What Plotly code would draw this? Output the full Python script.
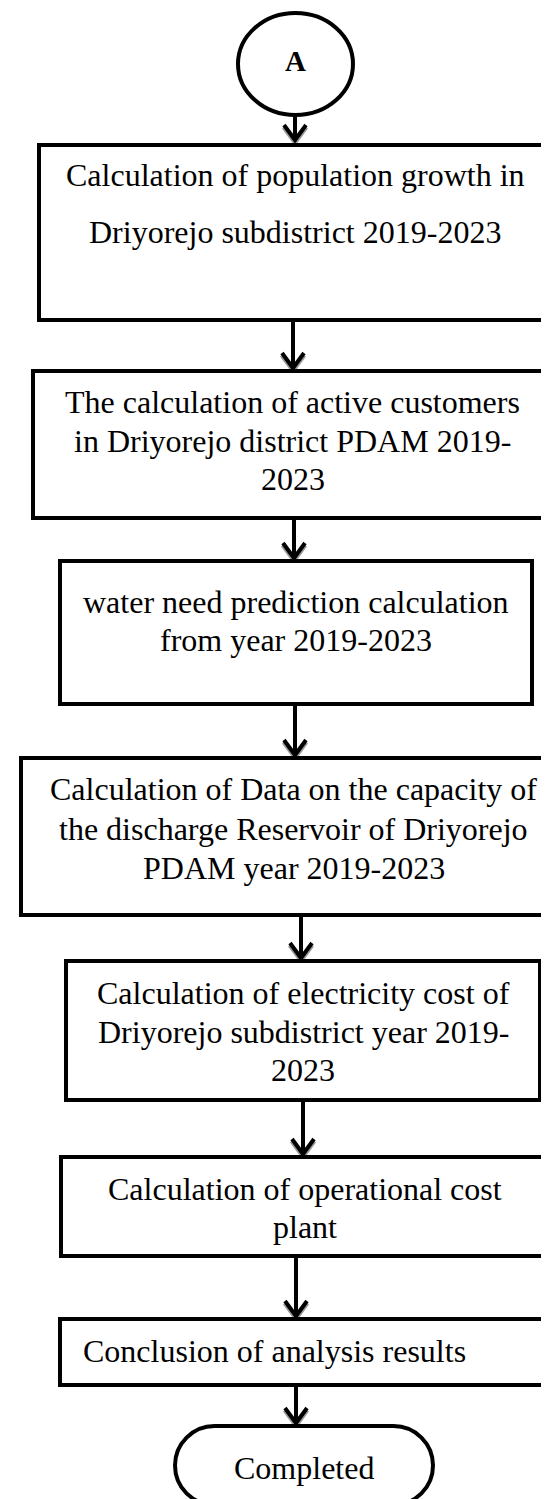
import plotly.graph_objects as go

# ---- content ----
start_label = "A"
end_label = "Completed"
step_labels = [
    ["Calculation of population growth in", "Driyorejo subdistrict 2019-2023"],
    ["The calculation of active customers", "in Driyorejo district PDAM 2019-", "2023"],
    ["water need prediction calculation", "from year 2019-2023"],
    ["Calculation of Data on the capacity of", "the discharge Reservoir of Driyorejo", "PDAM year 2019-2023"],
    ["Calculation of electricity cost of", "Driyorejo subdistrict year 2019-", "2023"],
    ["Calculation of operational cost", "plant"],
    ["Conclusion of analysis results"],
]

# ---- geometry (pixel units on the axes) ----
box_x0 = [31, 25, 52, 13, 58, 53, 52]
box_x1 = [543, 543, 524, 560, 532, 543, 541]
box_y0 = [137, 363, 553, 750, 953, 1149, 1311]
box_y1 = [312, 510, 696, 907, 1092, 1248, 1377]
text_cx = [287, 284.5, 287.5, 285.5, 295, 297, 73]
text_y0 = [167, 394, 593.5, 781, 985, 1181, 1343]
text_dy = [57, 38.5, 38.5, 39.5, 38.5, 38, 0]
text_anchor = ["center", "center", "center", "center", "center", "center", "left"]
arrow_x = [287, 285, 286, 287, 293, 295, 288, 288]
arrow_y0 = [107, 312, 510, 696, 907, 1092, 1248, 1377]
arrow_y1 = [135, 363, 553, 750, 953, 1149, 1311, 1418]
circle_box = (230, 345, 5, 107)
stadium_box = (167, 425, 1418, 1497)

W, H = 549, 1499
FONT = "Liberation Serif, Times New Roman, serif"
LW = 4

shapes = []
annotations = []

# arrows
for x, ya, yb in zip(arrow_x, arrow_y0, arrow_y1):
    tip = yb - 2
    shapes.append(dict(type="line", xref="x", yref="y", x0=x, x1=x, y0=ya, y1=tip - 2,
                       line=dict(color="black", width=LW)))
    shapes.append(dict(type="path", xref="x", yref="y",
                       path=f"M {x-11},{tip-14} L {x},{tip+1} L {x+11},{tip-14}",
                       line=dict(color="#9a9a9a", width=LW + 1)))
    shapes.append(dict(type="path", xref="x", yref="y",
                       path=f"M {x-11},{tip-16} L {x},{tip-1} L {x+11},{tip-16}",
                       line=dict(color="black", width=LW)))

# start circle
cx0, cx1, cy0, cy1 = circle_box
shapes.append(dict(type="circle", xref="x", yref="y", x0=cx0, x1=cx1, y0=cy0, y1=cy1,
                   line=dict(color="black", width=LW), fillcolor="white"))
annotations.append(dict(x=(cx0 + cx1) / 2, y=(cy0 + cy1) / 2 - 3, xref="x", yref="y",
                        text=f"<b>{start_label}</b>", showarrow=False,
                        font=dict(family=FONT, size=29, color="black"),
                        xanchor="center", yanchor="middle"))

# process boxes
for i, lines in enumerate(step_labels):
    shapes.append(dict(type="rect", xref="x", yref="y",
                       x0=box_x0[i], x1=box_x1[i], y0=box_y0[i], y1=box_y1[i],
                       line=dict(color="black", width=LW), fillcolor="white"))
    for j, t in enumerate(lines):
        annotations.append(dict(x=text_cx[i], y=text_y0[i] + j * text_dy[i], xref="x", yref="y",
                                text=t, showarrow=False,
                                font=dict(family=FONT, size=32, color="black"),
                                xanchor=text_anchor[i], yanchor="middle"))

# end terminal (stadium)
sx0, sx1, sy0, sy1 = stadium_box
r = (sy1 - sy0) / 2
k = 0.5523 * r
cl, cr, cy = sx0 + r, sx1 - r, (sy0 + sy1) / 2
path = (f"M {cl},{sy0} L {cr},{sy0} "
        f"C {cr+k},{sy0} {sx1},{cy-k} {sx1},{cy} "
        f"C {sx1},{cy+k} {cr+k},{sy1} {cr},{sy1} "
        f"L {cl},{sy1} "
        f"C {cl-k},{sy1} {sx0},{cy+k} {sx0},{cy} "
        f"C {sx0},{cy-k} {cl-k},{sy0} {cl},{sy0} Z")
shapes.append(dict(type="path", xref="x", yref="y", path=path,
                   line=dict(color="black", width=LW), fillcolor="white"))
annotations.append(dict(x=(sx0 + sx1) / 2, y=cy + 2, xref="x", yref="y",
                        text=end_label, showarrow=False,
                        font=dict(family=FONT, size=32, color="black"),
                        xanchor="center", yanchor="middle"))

fig = go.Figure()
fig.update_layout(
    width=W, height=H,
    margin=dict(l=0, r=0, t=0, b=0),
    paper_bgcolor="white", plot_bgcolor="white",
    xaxis=dict(range=[0, W], visible=False, fixedrange=True),
    yaxis=dict(range=[H, 0], visible=False, fixedrange=True),
    shapes=shapes, annotations=annotations,
    showlegend=False,
)
fig.write_html("out.html")
